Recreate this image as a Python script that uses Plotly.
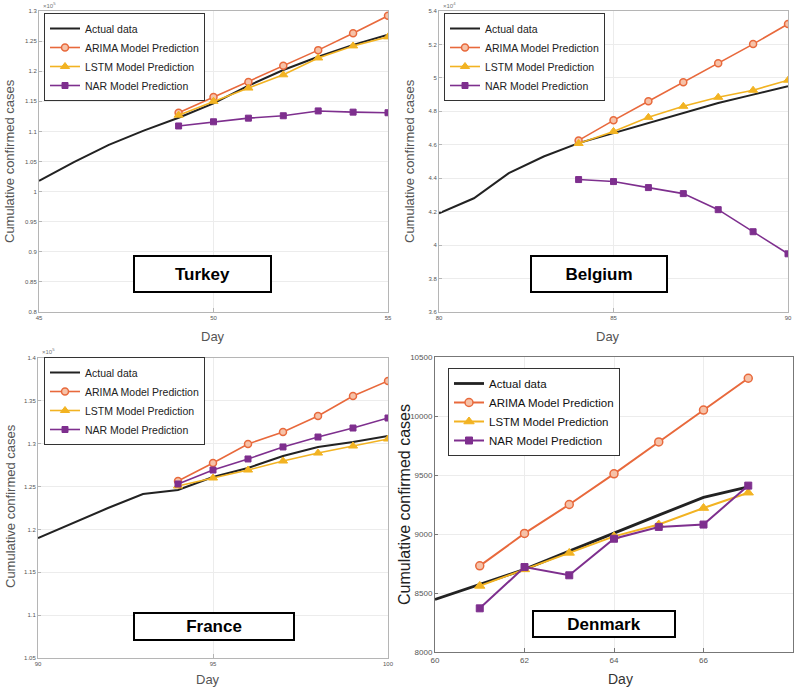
import plotly.graph_objects as go

W, H = 796, 688

# ---------------- data ----------------
turkey_days = [45, 46, 47, 48, 49, 50, 51, 52, 53, 54, 55]
turkey_actual = [101790, 104912, 107773, 110130, 112261, 114653, 117589, 120204, 122392, 124375, 126045]
turkey_pred_days = [49, 50, 51, 52, 53, 54, 55]
turkey_arima = [113100, 115700, 118200, 120900, 123500, 126300, 129200]
turkey_lstm = [112700, 115000, 117200, 119400, 122200, 124200, 125700]
turkey_nar = [110900, 111600, 112200, 112600, 113400, 113200, 113100]

belgium_days = [80, 81, 82, 83, 84, 85, 86, 87, 88, 89, 90]
belgium_actual = [41900, 42800, 44300, 45300, 46100, 46700, 47300, 47900, 48500, 49000, 49500]
belgium_pred_days = [84, 85, 86, 87, 88, 89, 90]
belgium_arima = [46260, 47460, 48600, 49740, 50880, 52020, 53220]
belgium_lstm = [46080, 46800, 47640, 48300, 48840, 49260, 49860]
belgium_nar = [43920, 43800, 43440, 43080, 42120, 40800, 39480]

france_days = [90, 91, 92, 93, 94, 95, 96, 97, 98, 99, 100]
france_actual = [119000, 120750, 122500, 124130, 124600, 126110, 127170, 128570, 129620, 130200, 130900]
france_pred_days = [94, 95, 96, 97, 98, 99, 100]
france_arima = [125650, 127750, 129970, 131370, 133230, 135570, 137320]
france_lstm = [125060, 126000, 126930, 127980, 128910, 129730, 130550]
france_nar = [125300, 126930, 128220, 129620, 130780, 131830, 133000]

denmark_days = [60, 61, 62, 63, 64, 65, 66, 67]
denmark_actual = [8445, 8570, 8700, 8855, 9010, 9160, 9310, 9400]
denmark_pred_days = [61, 62, 63, 64, 65, 66, 67]
denmark_arima = [8730, 9005, 9250, 9510, 9780, 10050, 10320]
denmark_lstm = [8560, 8700, 8840, 8980, 9080, 9220, 9350]
denmark_nar = [8370, 8720, 8650, 8960, 9060, 9080, 9410]

series_names = ["Actual data", "ARIMA Model Prediction", "LSTM Model Prediction", "NAR Model Prediction"]
countries = ["Turkey", "Belgium", "France", "Denmark"]

turkey_yticks = [0.8, 0.85, 0.9, 0.95, 1, 1.05, 1.1, 1.15, 1.2, 1.25, 1.3]
belgium_yticks = [3.6, 3.8, 4, 4.2, 4.4, 4.6, 4.8, 5, 5.2, 5.4]
france_yticks = [1.05, 1.1, 1.15, 1.2, 1.25, 1.3, 1.35, 1.4]
denmark_yticks = [8000, 8500, 9000, 9500, 10000, 10500]

C_ACT = "#222222"
C_ARIMA = "#E8693C"
C_LSTM = "#F2B322"
C_NAR = "#7E2F8E"

# pixel boxes of plot areas: (x0, x1, ytop, ybottom)
boxes = {
    "Turkey": (39, 388, 11, 312),
    "Belgium": (439, 788, 11, 312),
    "France": (38, 388, 358, 658),
    "Denmark": (435, 793, 357, 652),
}

def px(x):
    return x / W

def py(y):
    return 1 - y / H

fig = go.Figure()

panels = [
    ("Turkey", 1, 1e5, turkey_days, turkey_actual, turkey_pred_days, turkey_arima, turkey_lstm, turkey_nar,
     [45, 55], [45, 50, 55], [0.8, 1.3], turkey_yticks, "legend"),
    ("Belgium", 2, 1e4, belgium_days, belgium_actual, belgium_pred_days, belgium_arima, belgium_lstm, belgium_nar,
     [80, 90], [80, 85, 90], [3.6, 5.4], belgium_yticks, "legend2"),
    ("France", 3, 1e5, france_days, france_actual, france_pred_days, france_arima, france_lstm, france_nar,
     [90, 100], [90, 95, 100], [1.05, 1.4], france_yticks, "legend3"),
    ("Denmark", 4, 1, denmark_days, denmark_actual, denmark_pred_days, denmark_arima, denmark_lstm, denmark_nar,
     [60, 68], [60, 62, 64, 66, 68], [8000, 10500], denmark_yticks, "legend4"),
]

layout_axes = {}
for (name, i, scale, d_act, v_act, d_pred, v_ar, v_ls, v_nr, xr, xt, yr, yt, lg) in panels:
    big = name == "Denmark"
    xa = "x" if i == 1 else f"x{i}"
    ya = "y" if i == 1 else f"y{i}"
    lw_act = 2.8 if big else 2.0
    lw = 2.0 if big else 1.6
    ms = 8 if big else 7
    fig.add_trace(go.Scatter(x=d_act, y=[v / scale for v in v_act], mode="lines", name=series_names[0],
                             line=dict(color=C_ACT, width=lw_act), xaxis=xa, yaxis=ya, legend=lg))
    fig.add_trace(go.Scatter(x=d_pred, y=[v / scale for v in v_ar], mode="lines+markers", name=series_names[1],
                             line=dict(color=C_ARIMA, width=lw),
                             marker=dict(symbol="circle", size=ms, color="#F6C2A8", line=dict(color=C_ARIMA, width=1.5)),
                             xaxis=xa, yaxis=ya, legend=lg))
    fig.add_trace(go.Scatter(x=d_pred, y=[v / scale for v in v_ls], mode="lines+markers", name=series_names[2],
                             line=dict(color=C_LSTM, width=lw),
                             marker=dict(symbol="triangle-up", size=ms + 1, color=C_LSTM, line=dict(color=C_LSTM, width=1)),
                             xaxis=xa, yaxis=ya, legend=lg))
    fig.add_trace(go.Scatter(x=d_pred, y=[v / scale for v in v_nr], mode="lines+markers", name=series_names[3],
                             line=dict(color=C_NAR, width=lw),
                             marker=dict(symbol="square", size=ms - 1, color=C_NAR, line=dict(color=C_NAR, width=1)),
                             xaxis=xa, yaxis=ya, legend=lg))

    x0, x1, yt_, yb_ = boxes[name]
    tickfont = dict(size=8 if big else 6, color="#555555", family="Arial")
    axis_line = "#777777" if big else "#b5b5b5"
    layout_axes["xaxis" if i == 1 else f"xaxis{i}"] = dict(
        domain=[px(x0), px(x1)], anchor=ya, range=xr, tickvals=xt, ticktext=[str(t) for t in xt],
        showgrid=True, gridcolor="#ececec", zeroline=False, showline=True, linecolor=axis_line, mirror=True,
        ticks="inside", ticklen=4, tickcolor=axis_line, tickfont=tickfont, fixedrange=True, automargin=False)
    layout_axes["yaxis" if i == 1 else f"yaxis{i}"] = dict(
        domain=[py(yb_), py(yt_)], anchor=xa, range=yr, tickvals=yt, ticktext=[f"{t:g}" for t in yt],
        showgrid=True, gridcolor="#ececec", zeroline=False, showline=True, linecolor=axis_line, mirror=True,
        ticks="inside", ticklen=3, tickcolor=axis_line, tickfont=tickfont, fixedrange=True, automargin=False)

fig.update_layout(**layout_axes)

legend_common = dict(bgcolor="white", bordercolor="#333333", borderwidth=1, xanchor="left", yanchor="top",
                     tracegroupgap=0, itemwidth=30)
fig.update_layout(
    width=W, height=H, margin=dict(l=0, r=0, t=0, b=0, autoexpand=False),
    paper_bgcolor="white", plot_bgcolor="white",
    font=dict(family="Arial, Liberation Sans, sans-serif", color="#333333"),
    legend=dict(x=px(44), y=py(13), font=dict(size=10.5, color="#222"), **legend_common),
    legend2=dict(x=px(444), y=py(13), font=dict(size=10.5, color="#222"), **legend_common),
    legend3=dict(x=px(44), y=py(357), font=dict(size=10.5, color="#222"), **legend_common),
    legend4=dict(x=px(448), y=py(368), font=dict(size=11.5, color="#111"), **legend_common),
)

ann = []
# country boxes
country_boxes = {"Turkey": (133, 272, 255, 293), "Belgium": (530, 668, 255, 293),
                 "France": (133, 295, 612, 641), "Denmark": (532, 676, 610, 638)}
for c, (bx0, bx1, by0, by1) in country_boxes.items():
    ann.append(dict(x=px((bx0 + bx1) / 2), y=py((by0 + by1) / 2), xref="paper", yref="paper",
                    text=f"<b>{c}</b>", showarrow=False, font=dict(size=17, color="black", family="Arial"),
                    bgcolor="white", bordercolor="black", borderwidth=2,
                    width=bx1 - bx0 - 6, height=by1 - by0 - 6, xanchor="center", yanchor="middle"))
# y titles
for (xx, yy, sz, col) in [(10, 161, 13, "#555"), (410, 161, 13, "#555"), (10, 506, 13, "#555"), (404, 505, 16, "#222")]:
    ann.append(dict(x=px(xx), y=py(yy), xref="paper", yref="paper", text="Cumulative confirmed cases",
                    textangle=-90, showarrow=False, font=dict(size=sz, color=col), xanchor="center", yanchor="middle"))
# x titles
for (xx, yy, sz, col) in [(213, 336, 13, "#555"), (608, 336, 13, "#555"), (208, 679, 13, "#555"), (620, 679, 14, "#333")]:
    ann.append(dict(x=px(xx), y=py(yy), xref="paper", yref="paper", text="Day",
                    showarrow=False, font=dict(size=sz, color=col), xanchor="center", yanchor="middle"))
# exponent labels
for (xx, yy, t) in [(41, 5, "×10<sup>5</sup>"), (441, 5, "×10<sup>4</sup>"), (40, 351, "×10<sup>5</sup>")]:
    ann.append(dict(x=px(xx), y=py(yy), xref="paper", yref="paper", text=t,
                    showarrow=False, font=dict(size=6, color="#777"), xanchor="left", yanchor="middle"))
fig.update_layout(annotations=ann)

fig.write_html("out.html", config={"displayModeBar": False},
               post_script="document.body.style.margin='0px';document.body.style.overflow='hidden';")
